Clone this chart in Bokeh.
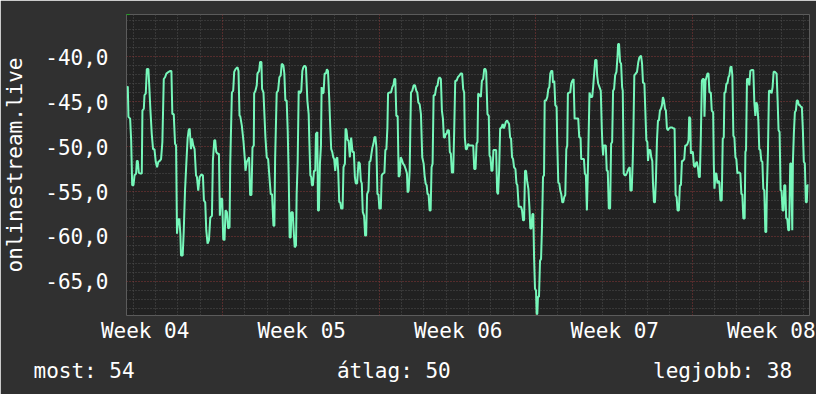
from bokeh.plotting import figure
from bokeh.models import Range1d, FixedTicker, Grid, Arrow, NormalHead, Title
from bokeh.embed import file_html
from bokeh.resources import INLINE

# ---- data: hours since chart start, signal level ----
hours_a = [0.7, 1.4, 2.1, 3.9, 5.0, 6.1, 7.5, 8.6, 10.3, 11.1,
           12.1, 13.2, 14.6, 16.4, 17.1, 18.6, 19.3, 20.7, 21.8, 23.5,
           24.3, 25.7, 27.1, 28.5, 30.0, 31.4, 32.8, 34.2, 35.7, 37.1,
           38.5, 40.0, 41.4, 42.8, 45.3, 47.1, 48.2, 49.2, 50.7, 52.1,
           53.2, 54.2, 55.3, 56.7, 57.8, 58.5, 60.3, 61.4, 62.8, 64.2,
           65.6, 66.7, 67.8, 69.2, 70.3, 71.7, 73.1, 74.6, 75.6, 77.0,
           78.5, 80.3, 82.0, 83.1, 84.5, 85.6, 87.0, 88.5, 89.9, 91.7,
           92.7, 94.2, 95.2, 96.3, 97.7, 99.2, 100.2, 101.3, 102.7, 103.8,
           105.2, 106.3, 107.7, 109.1, 110.6, 111.3, 113.1, 114.5, 115.6, 117.0,
           119.1, 120.2, 121.3, 122.0]
level_a = [-43.3, -43.4, -46.7, -46.9, -49.3, -54.3, -54.3, -53.2, -53.0, -51.6,
           -51.6, -52.9, -53.0, -53.0, -46.0, -45.8, -44.3, -44.1, -41.4, -41.4,
           -43.0, -46.0, -48.6, -50.3, -50.3, -51.7, -52.3, -51.7, -51.6, -51.4,
           -49.5, -42.5, -42.3, -41.9, -41.7, -41.6, -41.6, -46.4, -46.4, -49.7,
           -49.9, -59.7, -58.2, -58.0, -59.7, -62.1, -62.1, -59.5, -54.9, -51.9,
           -49.1, -48.2, -48.0, -50.3, -49.1, -49.9, -50.3, -53.2, -53.4, -54.9,
           -53.4, -53.1, -53.2, -56.0, -56.2, -59.3, -60.8, -60.4, -57.9, -57.7,
           -51.6, -49.3, -49.3, -50.6, -50.8, -50.8, -57.7, -55.8, -55.8, -60.3,
           -60.4, -57.1, -57.3, -59.1, -59.0, -52.1, -44.0, -43.8, -41.7, -41.4,
           -41.2, -41.6, -46.6, -46.6]

hours_b = [123.8, 125.6, 127.0, 127.7, 129.1, 130.6, 131.6, 132.7, 134.1, 135.2,
           136.6, 137.0, 138.4, 139.8, 140.5, 142.3, 143.4, 144.8, 145.5, 147.0,
           148.0, 149.1, 150.5, 152.0, 153.4, 154.8, 156.2, 157.7, 158.7, 159.5,
           161.2, 162.7, 164.1, 165.5, 166.6, 168.4, 169.4, 170.5, 171.9, 173.0,
           174.1, 175.1, 176.2, 176.9, 178.4, 179.4, 180.5, 181.9, 182.6, 183.7,
           184.8, 186.2, 187.6, 188.7, 189.8, 191.2, 192.6, 194.1, 195.5, 196.2,
           197.3, 198.3, 199.0, 200.1, 201.2, 202.6, 203.3, 204.8, 205.5, 206.5,
           207.6, 208.7, 209.4, 210.5, 211.5, 212.6, 214.0, 215.1, 216.2, 217.6,
           218.7, 219.7, 220.8, 221.9, 222.9, 224.0, 225.1, 226.2, 227.2, 228.3,
           229.4, 230.4, 231.9, 232.9, 234.4, 235.1, 236.1, 237.2, 238.3, 239.7,
           241.1, 242.6, 244.0, 245.1]
level_b = [-47.7, -49.5, -51.4, -52.7, -51.7, -51.4, -51.2, -55.4, -55.4, -50.1,
           -49.9, -44.1, -43.8, -43.2, -41.9, -41.6, -40.6, -40.6, -43.6, -44.0,
           -46.4, -49.0, -51.2, -51.4, -53.4, -55.3, -55.3, -58.8, -58.8, -51.4,
           -44.0, -43.8, -42.3, -42.1, -40.8, -41.0, -41.9, -44.9, -44.9, -48.2,
           -53.4, -60.1, -60.1, -57.3, -57.3, -59.3, -61.2, -61.0, -55.3, -51.7,
           -43.8, -44.1, -43.8, -41.6, -41.2, -41.0, -41.2, -44.9, -46.4, -49.3,
           -53.2, -53.4, -54.3, -54.3, -52.7, -52.7, -48.6, -48.4, -57.1, -57.1,
           -51.9, -49.9, -43.4, -44.1, -44.0, -41.9, -41.9, -41.4, -41.6, -44.7,
           -47.9, -50.3, -50.6, -51.2, -51.4, -52.7, -51.4, -51.2, -52.7, -56.2,
           -56.2, -56.9, -56.9, -52.3, -51.9, -48.0, -48.2, -49.3, -49.3, -51.2,
           -49.0, -50.6, -50.6, -53.4]

hours_c = [246.1, 247.5, 249.0, 250.4, 251.5, 252.5, 253.6, 255.0, 256.1, 257.2,
           258.2, 259.7, 260.7, 261.8, 262.9, 263.9, 265.0, 266.1, 267.1, 268.2,
           269.3, 270.4, 271.4, 272.9, 273.9, 275.3, 276.8, 277.8, 278.9, 280.0,
           280.7, 282.1, 283.9, 285.3, 286.4, 287.5, 288.5, 289.6, 291.0, 292.1,
           293.2, 294.3, 295.3, 296.8, 298.2, 299.6, 301.0, 301.7, 302.8, 303.9,
           304.6, 305.3, 306.7, 308.2, 309.6, 311.0, 312.1, 313.2, 314.6, 316.0,
           317.4, 318.9, 319.9, 321.0, 322.1, 323.1, 324.2, 325.3, 326.4, 327.4,
           328.5, 329.6, 331.0, 332.4, 333.8, 334.9, 336.0, 337.4, 338.5, 339.6,
           340.6, 341.7, 342.4, 343.5, 344.5, 346.0, 347.0, 348.1, 349.2, 350.6,
           351.7, 352.8, 354.2, 355.6, 357.4, 358.5, 360.2, 361.3, 362.4, 363.1,
           364.2, 365.2, 366.7, 367.7, 369.5]
level_c = [-54.1, -54.1, -51.7, -51.9, -53.8, -54.1, -57.3, -57.7, -59.9, -59.9,
           -55.3, -54.9, -51.7, -51.6, -50.8, -50.1, -49.7, -49.0, -48.9, -50.1,
           -55.3, -55.3, -56.9, -56.9, -53.2, -53.0, -52.9, -50.4, -50.3, -47.9,
           -44.1, -44.0, -44.0, -43.4, -43.2, -42.5, -42.5, -46.6, -46.6, -53.4,
           -53.2, -51.2, -51.4, -51.9, -52.1, -52.5, -53.0, -55.1, -54.9, -52.7,
           -48.2, -44.0, -43.8, -43.2, -43.2, -43.8, -44.0, -45.1, -45.3, -46.4,
           -51.2, -51.9, -53.2, -54.1, -54.3, -55.3, -55.3, -57.1, -57.1, -52.3,
           -51.9, -44.3, -44.3, -43.4, -43.2, -42.5, -42.3, -42.5, -46.0, -46.9,
           -49.0, -49.0, -48.6, -48.6, -48.2, -48.2, -50.6, -50.8, -52.9, -52.9,
           -48.2, -42.7, -42.7, -42.3, -42.1, -41.9, -41.9, -43.6, -44.0, -49.0,
           -50.3, -50.3, -49.7, -49.9, -49.9]

hours_d = [370.3, 372.1, 373.2, 374.6, 375.7, 376.7, 377.4, 378.9, 380.3, 381.4,
           382.8, 383.9, 385.3, 386.0, 387.4, 388.8, 389.6, 390.6, 391.7, 392.8,
           393.8, 395.3, 396.7, 397.8, 398.8, 399.9, 401.0, 402.4, 403.8, 404.9,
           406.0, 407.0, 408.5, 409.5, 410.6, 411.7, 412.7, 413.8, 414.9, 415.9,
           417.4, 418.5, 419.5, 420.9, 422.0, 423.4, 424.5, 425.6, 426.7, 427.7,
           428.8, 429.9, 431.3, 432.4, 433.4, 434.5, 435.6, 436.6, 437.4, 438.4,
           439.5, 440.2, 440.9, 441.6, 442.7, 443.8, 444.9, 445.9, 447.0, 448.1,
           448.8, 450.2, 451.6, 452.7, 453.8, 454.8, 455.9, 457.0, 457.7, 459.1,
           460.2, 461.6, 462.3, 463.4, 464.5, 465.5, 466.6, 467.7, 468.7, 469.8,
           470.9, 472.0, 473.0, 473.7, 475.2, 476.2, 477.3, 478.4, 479.8, 480.9,
           482.3, 483.7, 484.8, 485.9, 487.3, 488.0, 489.4, 490.9, 491.9, 493.0,
           494.1]
level_d = [-49.9, -49.9, -52.5, -52.5, -49.7, -49.5, -44.1, -44.3, -44.5, -42.7,
           -42.5, -41.4, -41.4, -41.7, -46.4, -46.6, -51.0, -51.2, -52.7, -52.7,
           -50.4, -50.4, -50.4, -55.1, -55.3, -52.7, -48.0, -47.9, -47.5, -48.0,
           -47.7, -47.3, -47.1, -47.3, -47.5, -49.0, -49.1, -51.2, -51.4, -52.3,
           -52.5, -54.1, -54.3, -56.7, -56.7, -56.7, -57.1, -58.2, -58.2, -52.7,
           -52.7, -53.8, -54.7, -56.7, -59.1, -59.1, -57.5, -57.5, -62.3, -65.8,
           -66.0, -68.6, -68.6, -66.7, -66.7, -62.7, -62.5, -59.0, -53.4, -53.2,
           -44.9, -44.9, -44.5, -43.6, -43.4, -41.9, -41.6, -41.6, -42.9, -42.7,
           -45.4, -45.6, -49.7, -54.0, -54.1, -54.9, -55.3, -56.2, -56.2, -55.6,
           -55.4, -50.3, -49.9, -44.1, -44.0, -44.0, -43.0, -42.7, -42.5, -46.9,
           -46.9, -46.9, -46.9, -49.0, -49.0, -51.4, -51.4, -51.4, -53.0, -53.2,
           -57.1]

hours_e = [495.5, 496.9, 498.3, 499.8, 500.8, 501.9, 503.0, 504.4, 505.1, 506.2,
           507.6, 509.0, 510.1, 510.8, 511.5, 512.2, 514.4, 515.4, 516.5, 517.6,
           519.0, 520.1, 521.2, 522.2, 523.3, 524.4, 525.8, 526.9, 527.6, 528.6,
           529.7, 530.8, 531.9, 532.6, 533.6, 534.7, 535.8, 537.2, 538.6, 540.1,
           540.8, 542.2, 543.3, 544.0, 545.0, 546.5, 547.9, 549.3, 550.4, 552.2,
           553.3, 554.3, 555.8, 556.8, 557.9, 559.0, 559.7, 560.7, 562.2, 563.2,
           564.3, 565.0, 566.1, 567.2, 568.2, 569.3, 570.4, 571.4, 572.5, 573.6,
           574.7, 575.7, 576.8, 577.9, 578.9, 580.0, 581.1, 582.1, 583.6, 585.7,
           587.1, 588.2, 589.3, 590.4, 591.4, 592.8, 593.9, 595.0, 596.1, 597.1,
           598.6, 599.6, 600.7, 602.1, 603.2, 603.9, 605.0, 605.7, 606.8, 607.8,
           608.9, 610.0, 611.0, 612.1, 613.2, 614.3, 615.3, 616.4, 617.5]
level_e = [-51.2, -44.0, -44.5, -44.5, -43.4, -41.9, -40.4, -40.4, -42.1, -43.0,
           -43.4, -43.8, -48.0, -49.9, -51.0, -49.9, -49.9, -52.7, -52.7, -56.9,
           -56.9, -49.7, -49.5, -43.8, -43.6, -42.1, -41.7, -40.1, -38.6, -38.6,
           -40.6, -40.8, -43.4, -43.8, -53.0, -53.2, -53.2, -52.9, -52.5, -52.3,
           -54.9, -54.9, -51.6, -48.4, -42.1, -41.9, -41.7, -40.6, -40.1, -39.9,
           -40.8, -42.9, -43.0, -46.0, -49.3, -49.5, -51.6, -50.4, -50.4, -51.2,
           -51.6, -54.0, -56.2, -56.2, -53.6, -49.3, -47.1, -47.1, -46.0, -45.8,
           -45.4, -44.5, -44.9, -45.8, -46.0, -48.0, -48.2, -48.0, -47.9, -47.9,
           -48.0, -48.0, -55.4, -55.6, -57.1, -57.1, -54.3, -54.3, -51.6, -51.6,
           -51.4, -49.9, -49.9, -49.7, -49.3, -46.7, -46.9, -50.8, -50.6, -50.6,
           -52.1, -52.3, -51.9, -51.7, -52.3, -53.4, -53.4, -48.8, -42.7]

hours_f = [618.5, 619.6, 620.3, 621.4, 622.4, 623.5, 624.6, 625.6, 627.1, 628.1,
           629.6, 630.3, 631.0, 632.1, 633.1, 634.2, 635.3, 636.3, 637.4, 638.8,
           639.9, 641.0, 641.7, 642.8, 643.8, 644.9, 646.0, 647.0, 648.1, 649.2,
           650.2, 651.3, 652.4, 653.5, 654.5, 655.6, 656.7, 657.7, 658.8, 659.9,
           660.9, 662.0, 663.4, 664.2, 664.9, 665.9, 667.4, 668.4, 669.5, 670.9,
           672.7, 673.8, 674.9, 675.9, 677.0, 678.1, 679.1, 680.2, 681.3, 682.4,
           683.4, 684.5, 685.6, 686.6, 687.3, 688.4, 689.5, 690.9, 692.3, 693.4,
           694.5, 695.9, 697.7, 698.8, 699.8, 700.9, 702.0, 703.0, 704.1, 705.2,
           705.9, 707.0, 708.0, 709.1, 710.2, 711.2, 712.3, 713.4, 714.5, 715.2,
           716.2, 717.3, 718.4, 719.4, 720.5, 721.6, 722.7, 723.7, 724.8, 725.9,
           726.9, 728.0, 729.1, 730.1, 730.8, 731.9]
level_f = [-42.5, -42.5, -46.7, -42.7, -42.3, -41.9, -41.9, -44.0, -44.0, -46.0,
           -46.2, -51.9, -54.7, -53.0, -53.0, -54.1, -53.8, -54.0, -56.0, -56.0,
           -49.1, -49.0, -44.0, -44.0, -43.0, -43.0, -42.3, -42.1, -41.2, -41.1,
           -42.1, -48.8, -49.0, -51.2, -51.4, -53.0, -52.9, -52.9, -53.0, -55.3,
           -55.3, -58.0, -58.0, -50.6, -50.4, -42.5, -42.5, -43.2, -41.6, -41.5,
           -41.5, -45.1, -46.6, -45.1, -45.4, -47.1, -50.3, -50.4, -51.6, -51.7,
           -54.7, -54.9, -59.5, -59.5, -54.6, -50.6, -43.8, -43.8, -44.1, -43.4,
           -41.7, -41.7, -41.9, -44.9, -48.2, -48.4, -54.9, -54.9, -57.1, -57.1,
           -54.3, -54.3, -58.0, -58.0, -59.3, -59.3, -51.9, -51.9, -59.3, -51.7,
           -48.6, -46.2, -46.0, -44.9, -44.9, -45.4, -45.4, -45.6, -45.6, -48.2,
           -51.7, -51.9, -56.2, -56.2, -54.3, -54.3]

week_label_hours = [20, 188, 356, 524, 692]
week_labels = ["Week 04", "Week 05", "Week 06", "Week 07", "Week 08"]
day_hours = [7 + 24 * k for k in range(31)]
week_start_hours = [103, 271, 439, 607]
y_ticks = [-65, -60, -55, -50, -45, -40]
y_tick_labels = ["-65,0", "-60,0", "-55,0", "-50,0", "-45,0", "-40,0"]
y_minor = list(range(-68, -35))
axis_title = "onlinestream.live"
legend_texts = ["most: 54", "átlag: 50", "legjobb: 38"]

for h, l in [(hours_a, level_a), (hours_b, level_b), (hours_c, level_c),
             (hours_d, level_d), (hours_e, level_e), (hours_f, level_f)]:
    assert len(h) == len(l), (len(h), len(l))

hours = hours_a + hours_b + hours_c + hours_d + hours_e + hours_f
level = level_a + level_b + level_c + level_d + level_e + level_f

FONT = "DejaVu Sans Mono"
BACK = "#303030"
CANVAS = "#212121"
MINOR = "#505050"
MAJOR = "#8a3838"

p = figure(width=816, height=394, output_backend="svg", toolbar_location=None,
           x_range=Range1d(0, 733), y_range=Range1d(-68.78, -35.33),
           min_border_left=124, min_border_right=7, min_border_top=14,
           min_border_bottom=20, background_fill_color=CANVAS,
           border_fill_color=BACK, outline_line_color=None)

# grids
p.xgrid.ticker = FixedTicker(ticks=[d for d in day_hours if d not in week_start_hours])
p.xgrid.grid_line_color = MINOR
p.xgrid.grid_line_dash = "1 2"
p.ygrid.ticker = FixedTicker(ticks=[v for v in y_minor if v % 5 != 0])
p.ygrid.grid_line_color = MINOR
p.ygrid.grid_line_dash = "1 2"
p.add_layout(Grid(dimension=0, ticker=FixedTicker(ticks=week_start_hours),
                  grid_line_color=MAJOR, grid_line_dash="1 2"))
p.add_layout(Grid(dimension=1, ticker=FixedTicker(ticks=y_ticks),
                  grid_line_color=MAJOR, grid_line_dash="1 2"))

p.line(hours, level, line_color="#76f7ba", line_width=2)

# axes
xa = p.xaxis[0]
xa.ticker = FixedTicker(ticks=week_label_hours)
xa.major_label_overrides = dict(zip(week_label_hours, week_labels))
xa.major_label_text_font = FONT
xa.major_label_text_font_size = "21px"
xa.major_label_text_color = "white"
xa.major_label_standoff = 3
xa.major_tick_line_color = None
xa.minor_tick_line_color = None
xa.axis_line_color = None
xa.major_tick_out = 0
xa.major_tick_in = 0

ya = p.yaxis[0]
ya.ticker = FixedTicker(ticks=y_ticks)
ya.major_label_overrides = dict(zip(y_ticks, y_tick_labels))
ya.major_label_text_font = FONT
ya.major_label_text_font_size = "21px"
ya.major_label_text_color = "white"
ya.major_label_standoff = 18
ya.major_tick_line_color = None
ya.minor_tick_line_color = None
ya.axis_line_color = None
ya.major_tick_out = 0
ya.major_tick_in = 0
ya.axis_label = axis_title
ya.axis_label_text_font = FONT
ya.axis_label_text_font_size = "21px"
ya.axis_label_text_font_style = "normal"
ya.axis_label_text_color = "white"
ya.axis_label_standoff = 15

# summary line below the axis, as one monospace text row
gap = "\u00a0" * 16
summary = legend_texts[0] + gap + legend_texts[1] + gap + legend_texts[2]
p.add_layout(Title(text=summary, align="left", offset=-93, standoff=23,
                   text_font=FONT, text_font_size="21px",
                   text_font_style="normal", text_color="white"), "below")

# small green arrows at axis ends
p.add_layout(Arrow(end=NormalHead(size=5, fill_color="#00c800", line_color="#00c800"),
                   x_start=0.5, y_start=-35.3, x_end=0.5, y_end=-34.78,
                   line_alpha=0))
p.add_layout(Arrow(end=NormalHead(size=5, fill_color="#00c800", line_color="#00c800"),
                   x_start=734, y_start=-68.67, x_end=740.4, y_end=-68.67,
                   line_alpha=0))

open("out.html", "w").write(file_html(p, INLINE))
